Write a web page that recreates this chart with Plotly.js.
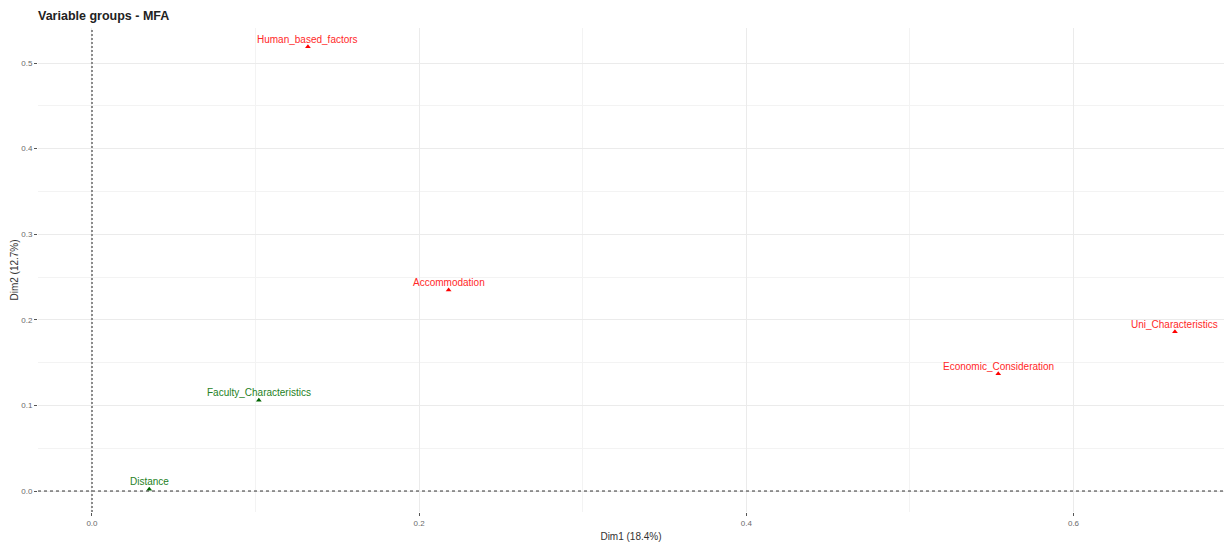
<!DOCTYPE html>
<html>
<head>
<meta charset="utf-8">
<script src="https://cdn.plot.ly/plotly-3.0.1.min.js"></script>
<style>html,body{margin:0;padding:0;background:#fff;}#chart{width:1225px;height:543px;}</style>
</head>
<body>
<div id="chart"></div>
<script>
const redLabels = ["Human_based_factors", "Accommodation", "Uni_Characteristics", "Economic_Consideration"];
const redDim1 = [0.132, 0.218, 0.662, 0.554];
const redDim2 = [0.519, 0.235, 0.186, 0.137];

const greenLabels = ["Faculty_Characteristics", "Distance"];
const greenDim1 = [0.102, 0.035];
const greenDim2 = [0.106, 0.002];

const xTicks = [0.0, 0.2, 0.4, 0.6];
const xTickText = ["0.0", "0.2", "0.4", "0.6"];
const yTicks = [0.0, 0.1, 0.2, 0.3, 0.4, 0.5];
const yTickText = ["0.0", "0.1", "0.2", "0.3", "0.4", "0.5"];

const RED = "#ff2828";
const GREEN = "#247f24";
const FONT = "Liberation Sans, Arial, sans-serif";

const traces = [
  {
    x: redDim1, y: redDim2, type: "scatter", mode: "markers",
    marker: {symbol: "triangle-up", size: 5, color: "#ff0000"},
    hoverinfo: "none", showlegend: false, cliponaxis: false
  },
  {
    x: greenDim1, y: greenDim2, type: "scatter", mode: "markers",
    marker: {symbol: "triangle-up", size: 5, color: "#006400"},
    hoverinfo: "none", showlegend: false, cliponaxis: false
  }
];

const annotations = [];
function addLabels(xs, ys, labels, color) {
  for (let i = 0; i < labels.length; i++) {
    annotations.push({
      x: xs[i], y: ys[i], xref: "x", yref: "y", text: labels[i], showarrow: false,
      xanchor: "center", yanchor: "bottom", yshift: 1, borderpad: 0,
      font: {family: FONT, size: 10, color: color}
    });
  }
}
addLabels(redDim1, redDim2, redLabels, RED);
addLabels(greenDim1, greenDim2, greenLabels, GREEN);

const layout = {
  width: 1225, height: 543,
  margin: {l: 38, r: 1, t: 28, b: 31},
  paper_bgcolor: "#ffffff", plot_bgcolor: "#ffffff",
  font: {family: FONT, color: "#333"},
  title: {text: "<b>Variable groups - MFA</b>", x: 38/1225, xanchor: "left", y: 1 - 16/543, yanchor: "middle",
          font: {size: 12.5, color: "#222"}},
  xaxis: {
    range: [-0.033, 0.692], tickvals: xTicks, ticktext: xTickText,
    showgrid: true, gridcolor: "#ebebeb", gridwidth: 1,
    minor: {dtick: 0.1, showgrid: true, gridcolor: "#f3f3f3", gridwidth: 1},
    zeroline: false, showline: false,
    ticks: "outside", ticklen: 3, tickcolor: "#555", tickwidth: 1,
    tickfont: {size: 8, color: "#6a6a6a"},
    title: {text: "Dim1 (18.4%)", font: {size: 10, color: "#333"}, standoff: 6}
  },
  yaxis: {
    range: [-0.0245, 0.541], tickvals: yTicks, ticktext: yTickText,
    showgrid: true, gridcolor: "#ebebeb", gridwidth: 1,
    minor: {dtick: 0.05, showgrid: true, gridcolor: "#f3f3f3", gridwidth: 1},
    zeroline: false, showline: false,
    ticks: "outside", ticklen: 3, tickcolor: "#555", tickwidth: 1,
    tickfont: {size: 8, color: "#6a6a6a"},
    title: {text: "Dim2 (12.7%)", font: {size: 10, color: "#333"}, standoff: 0}
  },
  annotations: annotations,
  shapes: [
    {type: "line", xref: "paper", yref: "y", x0: 0, x1: 1, y0: 0, y1: 0,
     line: {color: "#333", width: 1, dash: "3px,3px"}},
    {type: "line", xref: "x", yref: "paper", x0: 0, x1: 0, y0: 0, y1: 1,
     line: {color: "#8a8a8a", width: 2, dash: "2px,2px"}}
  ]
};

Plotly.newPlot("chart", traces, layout, {displayModeBar: false, staticPlot: true});
</script>
</body>
</html>
